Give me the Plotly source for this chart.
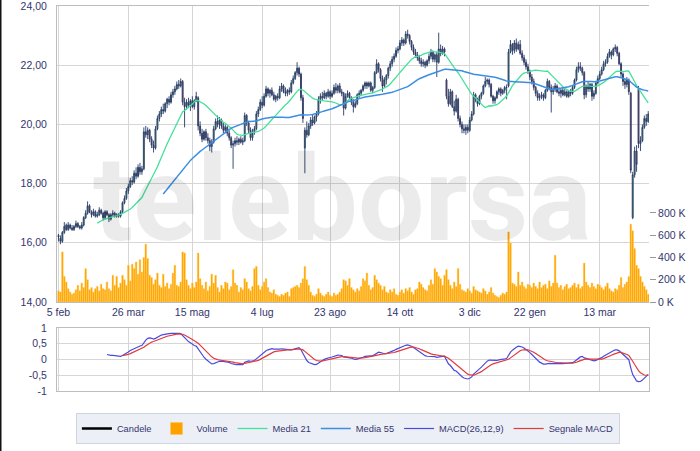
import pandas as pd
import numpy as np
import plotly.graph_objects as go

# ---------------- categories ----------------
holidays = ["2024-03-29", "2024-04-01", "2024-05-01", "2024-08-15", "2024-12-24",
            "2024-12-25", "2024-12-26", "2024-12-31", "2025-01-01"]
dates = [d for d in pd.bdate_range("2024-02-05", "2025-04-17")
         if d.strftime("%Y-%m-%d") not in holidays]

tick_dates = ["2024-02-05", "2024-03-26", "2024-05-15", "2024-07-04", "2024-08-23",
              "2024-10-14", "2024-12-03", "2025-01-22", "2025-03-13"]
tick_labels = ["5 feb", "26 mar", "15 mag", "4 lug", "23 ago", "14 ott", "3 dic", "22 gen", "13 mar"]

# ---------------- series values ----------------
open_ = [
16.25,16.15,16.05,16.35,16.60, 16.45,16.60,16.50,16.45,16.55, 16.65,16.55,16.50,16.60,16.85,
17.00,17.25,17.05,16.95,17.05, 16.90,16.95,17.10,17.00,16.85, 17.05,16.95,16.80,16.95,17.00,
16.90,16.95,16.90,17.05,17.35, 17.50,17.75,17.90,18.10, 18.05,18.35,18.25,18.55,
18.40,18.50,19.75,19.65,19.80, 19.50,19.30,19.20,19.85,20.20, 20.35,20.50,20.45,20.70,20.85,
20.75,21.00, 21.10,21.20, 21.35,21.30,21.45,20.75,20.60, 20.75,20.65,20.80,20.60,20.80,
20.90,19.95,19.70,19.50,19.75, 19.55,19.45,19.25,19.40,19.85, 20.10,20.00,20.15,19.95,19.80,
19.90,19.70,19.55,19.30,19.35, 19.45,19.40,19.50,19.40,19.45, 20.30,20.05,19.80,19.55,19.75,
19.85,20.35,20.50,20.75,20.65, 20.95,21.20,21.05,21.15,21.00, 20.85,20.95,20.90,21.20,21.30,
21.10,21.05,21.15,21.10,21.40, 21.55,21.75,21.90,21.70,20.90, 19.20,19.80,19.65,19.95,20.15,
20.05,20.25,20.35,20.85, 20.95,20.90,21.05,20.95,21.10, 20.95,21.05,21.25,21.15,21.30,
21.10,21.05,20.55,20.95,21.05, 20.90,20.75,20.60,20.70,21.00, 21.05,21.15,21.30,21.40,21.30,
21.40,21.15,21.25,21.75,22.05, 21.85,21.55,21.30,21.50,21.65, 21.90,22.05,22.20,22.30,22.50,
22.55,22.75,22.85,22.75,23.05, 23.00,22.80,22.60,22.45,22.35, 22.25,22.15,22.05,22.10,22.00,
22.15,22.30,22.45,22.20,22.35, 22.10,22.55,22.40,22.55,21.50, 20.95,20.70,21.10,20.60,20.45,
20.85,20.20,20.00,19.85,19.80, 19.90,19.80,20.15,20.35,21.00, 20.85,20.70,20.95,21.05,21.30,
21.45,21.50,21.35,20.95,20.80, 20.90,21.10,21.20, 21.05,21.15,
21.25,21.30,22.45,22.70,22.50, 22.75,22.55,22.70,22.40,22.25, 22.10,21.95,21.80,21.60,21.45,
21.25,21.05,20.90,20.95,21.00, 20.90,21.15,21.45,21.25,21.10, 21.20,21.30,21.10,21.05,21.15,
21.00,21.10,20.95,21.10,21.05, 21.25,21.50,21.85,21.95,21.90, 21.75,21.00,21.30,21.20,21.35,
20.95,21.05,21.40,21.55,21.70, 21.85,22.05,22.10,22.30,22.45, 22.35,22.55,22.60,22.40,22.05,
21.70,21.45,21.35,21.50,21.05, 16.85,18.30,19.10,21.20,19.35, 19.45,19.90,20.20,20.10,
]
high = [
16.30,16.25,16.40,16.70,16.65, 16.70,16.65,16.60,16.60,16.75, 16.70,16.60,16.70,16.90,17.10,
17.40,17.30,17.10,17.15,17.10, 17.05,17.20,17.15,17.05,17.10, 17.10,17.00,17.00,17.10,17.05,
17.00,17.00,17.10,17.40,17.60, 17.85,18.00,18.20,18.25, 18.45,18.55,18.65,18.70,
18.60,19.90,19.95,19.90,19.85, 19.60,19.45,19.95,20.30,20.45, 20.60,20.70,20.75,20.90,20.95,
21.10,21.20, 21.30,21.45, 21.50,21.55,21.50,20.90,20.85, 20.90,20.85,20.95,20.85,21.10,
20.95,20.10,19.85,19.80,19.85, 19.70,19.55,19.50,19.95,20.20, 20.30,20.25,20.20,20.05,20.00,
19.95,19.80,19.60,19.45,19.55, 19.60,19.55,19.60,19.55,20.40, 20.35,20.10,19.90,19.85,19.95,
20.45,20.60,20.85,20.95,21.05, 21.30,21.25,21.20,21.25,21.10, 21.00,21.05,21.30,21.40,21.35,
21.25,21.20,21.25,21.50,21.65, 21.80,22.10,21.95,21.75,21.00, 19.90,20.10,20.05,20.25,20.35,
20.30,20.45,20.95,21.05, 21.10,21.15,21.10,21.20,21.15, 21.15,21.35,21.40,21.35,21.40,
21.20,21.10,21.05,21.15,21.10, 20.95,20.85,20.80,21.05,21.15, 21.20,21.35,21.45,21.45,21.45,
21.45,21.30,21.80,22.20,22.10, 21.90,21.65,21.60,21.70,21.95, 22.15,22.30,22.40,22.60,22.65,
22.85,22.95,22.90,23.15,23.20, 23.05,22.85,22.70,22.55,22.45, 22.35,22.25,22.20,22.15,22.20,
22.40,22.55,22.50,22.40,22.45, 23.10,22.70,22.65,22.60,21.55, 21.20,21.20,21.15,20.80,21.00,
20.90,20.30,20.10,20.00,20.00, 20.00,20.25,20.45,21.10,21.05, 20.90,21.00,21.10,21.35,21.60,
21.55,21.55,21.40,21.00,20.95, 21.15,21.25,21.25, 21.20,21.30,
21.35,22.55,22.85,22.75,22.85, 22.90,22.80,22.85,22.50,22.35, 22.20,22.05,21.85,21.70,21.55,
21.30,21.15,21.05,21.10,21.05, 21.20,21.55,21.50,21.35,21.30, 21.40,21.35,21.25,21.20,21.25,
21.20,21.15,21.15,21.20,21.30, 21.55,21.95,22.10,22.10,21.95, 21.80,21.35,21.45,21.40,21.40,
21.15,21.45,21.65,21.80,21.95, 22.15,22.20,22.40,22.55,22.50, 22.60,22.70,22.65,22.45,22.10,
21.75,21.55,21.60,21.55,21.10, 18.40,19.25,19.30,21.30,19.60, 20.00,20.30,20.35,20.45,
]
low = [
16.05,15.95,16.00,16.30,16.40, 16.40,16.45,16.40,16.40,16.50, 16.50,16.45,16.45,16.55,16.80,
16.95,17.00,16.85,16.90,16.85, 16.85,16.90,16.95,16.75,16.80, 16.90,16.70,16.75,16.90,16.85,
16.85,16.85,16.85,17.00,17.30, 17.45,17.65,17.85,17.95, 18.00,18.15,18.20,18.30,
18.30,18.45,19.55,19.50,19.40, 19.20,19.05,19.15,19.80,20.10, 20.25,20.35,20.40,20.55,20.65,
20.70,20.90, 21.00,21.15, 21.20,21.25,20.65,19.90,20.50, 20.55,20.45,20.55,20.50,20.75,
19.80,19.60,19.40,19.45,19.45, 19.35,19.10,19.05,19.35,19.80, 19.90,19.85,19.85,19.70,19.70,
19.60,19.45,19.20,18.50,19.25, 19.30,19.30,19.35,19.30,19.40, 19.95,19.70,19.45,19.45,19.65,
19.80,20.25,20.45,20.55,20.60, 20.90,20.95,20.90,20.95,20.80, 20.75,20.80,20.85,21.10,21.05,
20.95,20.95,21.00,21.05,21.35, 21.50,21.65,21.60,20.80,20.05, 18.35,19.55,19.60,19.85,19.95,
20.00,20.10,20.30,20.70, 20.80,20.85,20.85,20.90,20.85, 20.90,21.00,21.05,21.05,21.05,
20.95,20.30,20.50,20.90,20.85, 20.65,20.40,20.55,20.65,20.90, 20.95,21.10,21.20,21.20,21.25,
21.10,21.05,21.20,21.70,21.75, 21.45,21.10,21.25,21.35,21.55, 21.80,21.95,22.10,22.25,22.40,
22.50,22.65,22.65,22.70,22.90, 22.70,22.50,22.35,22.25,22.15, 22.05,21.95,21.95,21.90,21.95,
22.05,22.20,22.10,22.10,21.60, 22.05,22.30,22.35,22.30,20.85, 20.60,20.65,20.55,20.30,20.40,
20.10,19.90,19.70,19.70,19.65, 19.70,19.75,20.10,20.30,20.75, 20.60,20.65,20.85,21.00,21.25,
21.35,21.25,20.90,20.70,20.70, 20.85,21.00,20.95, 21.00,21.05,
20.85,21.25,22.40,22.35,22.40, 22.45,22.50,22.35,22.15,22.00, 21.85,21.70,21.50,21.35,21.15,
20.95,20.80,20.80,20.85,20.80, 20.85,21.10,21.15,20.40,21.00, 21.10,21.05,20.95,20.90,20.95,
20.95,20.90,20.90,20.95,21.00, 21.20,21.45,21.75,21.80,21.65, 20.85,20.90,21.10,21.10,20.80,
20.85,21.00,21.35,21.50,21.65, 21.80,21.95,22.05,22.25,22.20, 22.30,22.45,22.30,22.00,21.60,
21.30,21.20,21.25,21.00,18.35, 16.80,18.20,18.40,19.20,19.10, 19.40,19.85,19.95,20.05,
]
close = [
16.20,16.05,16.35,16.55,16.45, 16.60,16.50,16.45,16.55,16.65, 16.55,16.50,16.60,16.85,17.00,
17.25,17.05,16.95,17.05,16.90, 16.95,17.10,17.00,16.85,17.05, 16.95,16.80,16.95,17.00,16.90,
16.95,16.90,17.05,17.35,17.50, 17.75,17.90,18.10,18.05, 18.35,18.25,18.55,18.40,
18.50,19.75,19.65,19.80,19.50, 19.30,19.20,19.85,20.20,20.35, 20.50,20.45,20.70,20.85,20.75,
21.00,21.10, 21.20,21.35, 21.30,21.45,20.75,20.60,20.75, 20.65,20.80,20.60,20.80,20.95,
19.95,19.70,19.50,19.75,19.55, 19.45,19.25,19.40,19.85,20.10, 20.00,20.15,19.95,19.80,19.90,
19.70,19.55,19.30,19.35,19.45, 19.40,19.50,19.40,19.45,20.30, 20.05,19.80,19.55,19.75,19.85,
20.35,20.50,20.75,20.65,20.95, 21.20,21.05,21.15,21.00,20.85, 20.95,20.90,21.20,21.30,21.10,
21.05,21.15,21.10,21.40,21.55, 21.75,21.90,21.70,20.90,20.20, 19.80,19.65,19.95,20.15,20.05,
20.25,20.35,20.85,20.95, 20.90,21.05,20.95,21.10,20.95, 21.05,21.25,21.15,21.30,21.10,
21.05,20.55,20.95,21.05,20.90, 20.75,20.60,20.70,21.00,21.05, 21.15,21.30,21.40,21.30,21.40,
21.15,21.25,21.75,22.05,21.85, 21.55,21.30,21.50,21.65,21.90, 22.05,22.20,22.30,22.50,22.55,
22.75,22.85,22.75,23.05,23.00, 22.80,22.60,22.45,22.35,22.25, 22.15,22.05,22.10,22.00,22.15,
22.30,22.45,22.20,22.35,22.10, 22.55,22.40,22.55,22.45,20.95, 20.70,21.10,20.60,20.45,20.85,
20.20,20.00,19.85,19.80,19.90, 19.80,20.15,20.35,21.00,20.85, 20.70,20.95,21.05,21.30,21.45,
21.50,21.35,20.95,20.80,20.90, 21.10,21.20,21.05, 21.15,21.25,
21.25,22.45,22.70,22.50,22.75, 22.55,22.70,22.40,22.25,22.10, 21.95,21.80,21.60,21.45,21.25,
21.05,20.90,20.95,21.00,20.90, 21.15,21.45,21.25,21.10,21.20, 21.30,21.10,21.05,21.15,21.00,
21.10,20.95,21.10,21.05,21.25, 21.50,21.85,21.95,21.90,21.75, 21.00,21.30,21.20,21.35,20.95,
21.05,21.40,21.55,21.70,21.85, 22.05,22.10,22.30,22.45,22.35, 22.55,22.60,22.40,22.05,21.70,
21.45,21.35,21.50,21.10,18.45, 18.30,19.10,18.65,19.35,19.45, 19.90,20.20,20.10,20.35,
]
volume_k = [
100,90,450,230,180, 120,90,70,80,110, 150,100,170,130,300, 200,110,130,90,120,
140,100,160,120,110, 180,120,100,240,150, 230,130,170,240,200, 150,330,190,340,300,
360,250,380,270,400, 520,390,240,220,160, 200,260,150,130,250, 140,170,120,160,260,
330,150,140,180,450, 440,200,150,120,170, 130,180,440,210,150, 120,180,100,140,250,
170,240,130,90,150, 120,180,170,110,140, 290,170,150,90,130, 110,210,180,120,100,
140,300,320,150,110, 140,180,210,130,90, 80,110,70,60,50, 70,60,80,90,50,
120,130,140,150,130, 170,210,320,200,150, 90,60,50,70,120, 80,60,50,70,90,
60,50,80,60,70, 90,120,200,190,150, 210,130,110,90,120, 100,140,210,190,260,
150,110,130,240,200, 170,150,110,140,90, 80,110,90,120,70, 60,90,110,80,120,
100,130,90,70,110, 120,180,160,130,110, 100,150,200,160,300, 270,230,210,150,240,
290,200,150,120,180, 140,300,160,110,100, 90,120,100,80,140, 110,100,90,80,120,
100,70,90,130,80, 60,50,40,60,80, 70,90,630,530,170, 160,140,270,150,180,
140,120,160,150,130, 170,140,120,180,130, 150,160,120,190,140, 170,420,170,130,150,
110,140,160,120,130, 150,170,130,160,120, 140,350,180,150,130, 170,140,120,160,150,
130,110,140,170,120, 100,90,120,110,150, 220,130,160,180,230, 700,640,480,330,300,
230,180,140,110,70,
]

n = min(len(dates), len(open_), len(high), len(low), len(close), len(volume_k))
dates = dates[:n]
x = list(range(n))
s_close = pd.Series(close[:n], dtype=float)

ma21 = s_close.rolling(21).mean()
ma55 = s_close.rolling(55).mean()
ema12 = s_close.ewm(span=12, adjust=False).mean()
ema26 = s_close.ewm(span=26, adjust=False).mean()
macd = ema12 - ema26
macd[:25] = np.nan
signal = macd.iloc[25:].ewm(span=9, adjust=False).mean().reindex(macd.index)
signal[:33] = np.nan

date_str = [d.strftime("%Y-%m-%d") for d in dates]
tickvals = [date_str.index(t) for t in tick_dates if t in date_str]

TXT = "#34346e"
FONT = "Liberation Sans"
GRID = "#d6d6d6"
BORDER = "#bdbdbd"

# plot-area geometry (px): left 57, right 649, top 6, bottom 391
L, R, T, B = 57, 649, 6, 391
W, H = 700, 451
PH = B - T

fig = go.Figure()

# legend-only proxy for candles
fig.add_trace(go.Scatter(x=[None], y=[None], mode="lines", name="Candele",
                         line=dict(color="#000000", width=2.5), xaxis="x", yaxis="y2"))
# volume (primary y, right side, drawn below the price overlay)
fig.add_trace(go.Bar(x=x, y=[v * 1000 for v in volume_k[:n]], name="Volume",
                     marker=dict(color="#ffa200", line=dict(color="#ffc94a", width=0.4)),
                     xaxis="x", yaxis="y", hoverinfo="skip"))
fig.add_trace(go.Candlestick(x=x, open=open_[:n], high=high[:n], low=low[:n], close=close[:n],
                             name="Candele", showlegend=False, xaxis="x", yaxis="y2",
                             increasing=dict(line=dict(color="#263a66", width=0.9), fillcolor="#3f9d5c"),
                             decreasing=dict(line=dict(color="#263a66", width=0.9), fillcolor="#b83a55"),
                             whiskerwidth=0))
fig.add_trace(go.Scatter(x=x, y=ma21, mode="lines", name="Media 21",
                         line=dict(color="#45e09a", width=1.3), xaxis="x", yaxis="y2"))
fig.add_trace(go.Scatter(x=x, y=ma55, mode="lines", name="Media 55",
                         line=dict(color="#3c8ee2", width=1.5), xaxis="x", yaxis="y2"))
fig.add_trace(go.Scatter(x=x, y=macd, mode="lines", name="MACD(26,12,9)",
                         line=dict(color="#4a4ae0", width=1.2), xaxis="x2", yaxis="y3"))
fig.add_trace(go.Scatter(x=x, y=signal, mode="lines", name="Segnale MACD",
                         line=dict(color="#e23a3a", width=1.2), xaxis="x2", yaxis="y3"))

xr = [-0.77, n - 1 + 0.4]
main_bottom = (B - 302) / PH
macd_top = (B - 328) / PH
tf = dict(family=FONT, size=10.5, color=TXT)
fig.update_layout(
    width=W, height=H,
    margin=dict(l=L, r=W - R, t=T, b=H - B, autoexpand=False),
    paper_bgcolor="white", plot_bgcolor="white",
    separators=",.",
    font=dict(family=FONT, size=10.5, color=TXT),
    showlegend=True,
    bargap=0.15,
    xaxis=dict(domain=[0, 1], anchor="y", range=xr, tickmode="array", tickvals=tickvals,
               ticktext=tick_labels, showgrid=True, gridcolor=GRID, gridwidth=1,
               showline=True, linecolor=BORDER, mirror=True, ticks="", zeroline=False,
               rangeslider=dict(visible=False), tickfont=tf, ticklabeloverflow="allow"),
    yaxis=dict(domain=[main_bottom, 1], range=[0, 2660000], side="right", showgrid=False,
               tickmode="array", tickvals=[0, 200000, 400000, 600000, 800000],
               ticktext=["0 K", "200 K", "400 K", "600 K", "800 K"],
               ticks="outside", ticklen=6, tickcolor="#9a9a9a", zeroline=False,
               showline=False, tickfont=tf, ticklabeloverflow="allow"),
    yaxis2=dict(overlaying="y", side="left", range=[14, 24], tickmode="array",
                tickvals=[14, 16, 18, 20, 22, 24], tickformat=".2f",
                showgrid=True, gridcolor=GRID, gridwidth=1, zeroline=False,
                showline=True, linecolor=BORDER, ticks="outside", ticklen=7,
                tickcolor="rgba(0,0,0,0)", tickfont=tf, ticklabeloverflow="allow"),
    xaxis2=dict(domain=[0, 1], anchor="y3", matches="x", range=xr, tickmode="array",
                tickvals=tickvals, showticklabels=False, showgrid=True, gridcolor=GRID,
                showline=True, linecolor=BORDER, mirror=True, ticks="", zeroline=False,
                rangeslider=dict(visible=False)),
    yaxis3=dict(domain=[0, macd_top], range=[-1.0, 1.0], tickmode="array",
                tickvals=[-1, -0.5, 0, 0.5, 1], ticktext=["-1", "-0,5", "0", "0,5", "1"],
                showgrid=True, gridcolor=GRID, zeroline=False, showline=True,
                linecolor=BORDER, mirror=True, ticks="outside", ticklen=7,
                tickcolor="rgba(0,0,0,0)", tickfont=tf, ticklabeloverflow="allow"),
    legend=dict(orientation="h", xref="container", yref="container",
                x=0.497, xanchor="center", y=1 - 413 / H, yanchor="top",
                bgcolor="#ecf0f6", bordercolor="#cfd5de", borderwidth=1,
                font=dict(family=FONT, size=9.3, color=TXT), traceorder="normal",
                itemwidth=30),
)

# watermark
fig.add_annotation(text="teleborsa", xref="paper", yref="paper",
                   x=(342 - L) / (R - L), y=(B - 200) / PH,
                   xanchor="center", yanchor="middle", showarrow=False,
                   font=dict(family="Roboto", weight=700, size=118, color="rgba(0,0,0,0.08)"))

# thin dark edge on the left side of the picture
fig.add_shape(type="line", xref="paper", yref="paper",
              x0=(0.75 - L) / (R - L), x1=(0.75 - L) / (R - L),
              y0=(B - H) / PH, y1=(B - 0) / PH, line=dict(color="#111111", width=1.5))

fig.write_html("out.html", config={"displayModeBar": False},
               post_script="document.body.style.margin='0px';document.body.style.padding='0px';")
